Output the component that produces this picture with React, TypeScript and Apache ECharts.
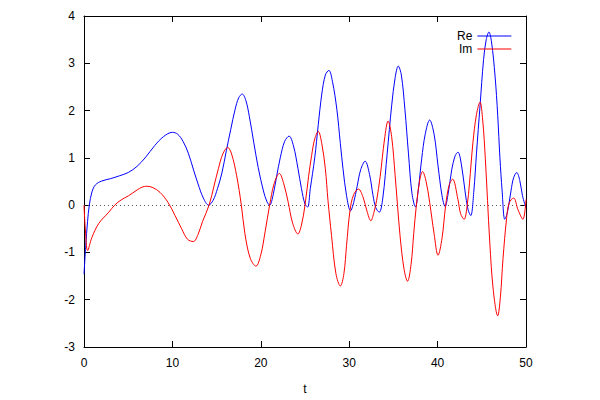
import React, { useEffect, useRef } from "react";
import * as echarts from "echarts";

// t values and Re(ζ(1/2+it)) readings from the picture
const tRe = [
  0, 0.2, 0.4, 0.6, 0.9, 1.3, 2.0, 3.0, 4.0, 5.0, 6.0, 7.0, 8.0, 9.0, 10.0, 10.6, 11.2, 11.8, 12.4, 12.9,
  13.5, 14.1, 14.6, 15.1, 15.6, 16.1, 16.6, 17.1, 17.5, 17.9, 18.3, 18.7, 19.2, 19.7, 20.3, 20.7, 21.0,
  21.4, 21.8, 22.2, 22.7, 23.2, 23.7, 24.2, 24.6, 25.0, 25.3, 25.6, 26.1, 26.5, 26.9, 27.3, 27.7, 28.1,
  28.6, 29.0, 29.3, 29.7, 30.15, 30.5, 30.9, 31.3, 31.8, 32.3, 32.7, 33.0, 33.4, 33.8, 34.3, 34.8, 35.2,
  35.55, 35.9, 36.3, 36.7, 37.1, 37.5, 37.8, 38.2, 38.6, 39.1, 39.6, 40.05, 40.5, 40.85, 41.2, 41.6, 42.0,
  42.3, 42.7, 43.1, 43.45, 43.75, 44.1, 44.4, 44.8, 45.2, 45.5, 45.8, 46.1, 46.5, 46.8, 47.05, 47.3, 47.6,
  47.9, 48.3, 48.6, 48.95, 49.3, 49.6, 50.0,
];
const reVals = [
  -1.46, -0.85, -0.35, 0.0, 0.28, 0.43, 0.51, 0.56, 0.62, 0.69, 0.82, 1.02, 1.26, 1.45, 1.54, 1.5, 1.35, 1.1, 0.74, 0.45,
  0.15, 0.0, 0.1, 0.35, 0.68, 1.15, 1.6, 2.03, 2.27, 2.35, 2.22, 1.88, 1.33, 0.8, 0.3, 0.07, 0.0,
  0.22, 0.62, 1.0, 1.35, 1.46, 1.25, 0.78, 0.35, 0.02, -0.04, 0.35, 1.0, 1.7, 2.35, 2.75, 2.85, 2.62,
  2.03, 1.3, 0.77, 0.2, -0.12, 0.05, 0.4, 0.75, 0.93, 0.65, 0.2, -0.05, -0.15, 0.15, 1.1, 2.1, 2.7,
  2.94, 2.75, 2.03, 1.1, 0.25, -0.04, 0.3, 0.98, 1.5, 1.8, 1.5, 0.83, 0.2, -0.03, 0.25, 0.75, 1.05,
  1.12, 0.85, 0.3, -0.1, -0.22, 0.3, 1.1, 2.1, 3.08, 3.5, 3.66, 3.45, 2.73, 1.9, 1.0, 0.3, -0.3,
  -0.15, 0.3, 0.58, 0.69, 0.52, 0.2, -0.06,
];

// t values and Im(ζ(1/2+it)) readings from the picture
const tIm = [
  0, 0.15, 0.41, 0.9, 1.66, 2.8, 3.47, 4.2, 5.05, 6.0, 6.56, 7.1, 7.8, 8.6, 9.5, 10.3, 11.05, 11.7, 12.37,
  12.9, 13.4, 14.15, 14.7, 15.2, 15.7, 16.25, 16.7, 17.27, 17.8, 18.2, 18.8, 19.45, 20.0, 20.5, 21.0, 21.5,
  22.1, 22.6, 23.1, 23.6, 24.2, 24.6, 25.0, 25.4, 25.75, 26.1, 26.5, 26.9, 27.3, 27.6, 28.0, 28.5, 29.0,
  29.4, 29.7, 30.1, 30.5, 31.05, 31.6, 32.0, 32.45, 32.8, 33.1, 33.5, 34.0, 34.4, 34.8, 35.2, 35.75, 36.2,
  36.6, 37.0, 37.3, 37.6, 38.0, 38.3, 38.7, 39.1, 39.6, 40.05, 40.5, 40.9, 41.3, 41.7, 42.3, 42.6, 43.0,
  43.35, 43.6, 44.0, 44.4, 44.8, 45.1, 45.4, 45.9, 46.3, 46.8, 47.1, 47.4, 47.8, 48.1, 48.6, 49.1, 49.65, 50.0,
];
const imVals = [
  0, -0.5, -0.96, -0.68, -0.39, -0.15, 0.0, 0.11, 0.2, 0.32, 0.38, 0.4, 0.37, 0.27, 0.06, -0.22, -0.5, -0.72, -0.77,
  -0.62, -0.35, 0.0, 0.4, 0.77, 1.08, 1.22, 1.08, 0.62, 0.0, -0.6, -1.12, -1.29, -1.05, -0.55, 0.0, 0.45,
  0.67, 0.45, 0.06, -0.38, -0.61, -0.42, 0.0, 0.6, 1.05, 1.4, 1.56, 1.3, 0.77, 0.1, -0.64, -1.45, -1.71,
  -1.45, -0.85, -0.1, 0.22, 0.34, 0.15, -0.12, -0.33, -0.15, 0.1, 0.6, 1.4, 1.78, 1.45, 0.62, -0.64, -1.35,
  -1.61, -1.25, -0.6, 0.0, 0.55, 0.71, 0.5, 0.06, -0.6, -1.06, -0.7, -0.02, 0.42, 0.55, 0.12, -0.18, -0.3,
  0.0, 0.45, 1.33, 1.92, 2.18, 1.8, 0.98, -0.78, -1.8, -2.34, -1.95, -1.13, -0.29, 0.05, 0.15, -0.1, -0.3, 0.12,
];

const seriesNames = ["Re", "Im"];
const xMin = 0, xMax = 50, xStep = 10;
const yMin = -3, yMax = 4, yStep = 1;

const FONT = "Liberation Sans, Arial, sans-serif";

export default function App() {
  const ref = useRef<HTMLDivElement>(null);
  useEffect(() => {
    if (!ref.current) return;
    const chart = echarts.init(ref.current, null, { renderer: "svg" });
    const axisCommon = {
      axisLine: { show: true, onZero: false, lineStyle: { color: "#000", width: 1 } },
      axisTick: { show: true, inside: true, length: 6, lineStyle: { color: "#000", width: 1 } },
      splitLine: { show: false },
    };
    chart.setOption({
      animation: false,
      backgroundColor: "#fff",
      textStyle: { fontFamily: FONT },
      grid: { left: 84, right: 74, top: 16, bottom: 51, containLabel: false },
      legend: {
        data: seriesNames,
        orient: "vertical",
        left: 452,
        top: 25,
        align: "right",
        itemWidth: 34,
        itemHeight: 1,
        itemGap: 1,
        icon: "rect",
        textStyle: { fontFamily: FONT, fontSize: 12, color: "#000", width: 20, align: "right" },
      },
      xAxis: [
        {
          type: "value", min: xMin, max: xMax, interval: xStep, position: "bottom",
          name: "t", nameLocation: "middle", nameGap: 36,
          nameTextStyle: { fontFamily: FONT, fontSize: 12, color: "#000" },
          axisLabel: { color: "#000", fontSize: 12, fontFamily: FONT, margin: 10 },
          ...axisCommon,
        },
        {
          type: "value", min: xMin, max: xMax, interval: xStep, position: "top",
          axisLabel: { show: false }, ...axisCommon,
        },
      ],
      yAxis: [
        {
          type: "value", min: yMin, max: yMax, interval: yStep, position: "left",
          axisLabel: { color: "#000", fontSize: 12, fontFamily: FONT, margin: 9 },
          ...axisCommon,
        },
        {
          type: "value", min: yMin, max: yMax, interval: yStep, position: "right",
          axisLabel: { show: false }, ...axisCommon,
        },
      ],
      series: [
        {
          name: seriesNames[0],
          type: "line",
          xAxisIndex: 0,
          yAxisIndex: 0,
          data: tRe.map((t, i) => [t, reVals[i]]),
          smooth: 0.35,
          showSymbol: false,
          symbol: "none",
          color: "#0000ff",
          lineStyle: { color: "#0000ff", width: 1 },
          z: 3,
          markLine: {
            silent: true,
            symbol: "none",
            label: { show: false },
            lineStyle: { color: "#555", width: 1, type: [1, 3] },
            data: [{ yAxis: 0 }],
            z: 1,
          },
        },
        {
          name: seriesNames[1],
          type: "line",
          xAxisIndex: 0,
          yAxisIndex: 0,
          data: tIm.map((t, i) => [t, imVals[i]]),
          smooth: 0.35,
          showSymbol: false,
          symbol: "none",
          color: "#ff0000",
          lineStyle: { color: "#ff0000", width: 1 },
          z: 4,
        },
      ],
    });
    return () => chart.dispose();
  }, []);
  return (
    <div
      ref={ref}
      style={{ position: "fixed", left: 0, top: 0, width: 600, height: 400, background: "#fff" }}
    />
  );
}
